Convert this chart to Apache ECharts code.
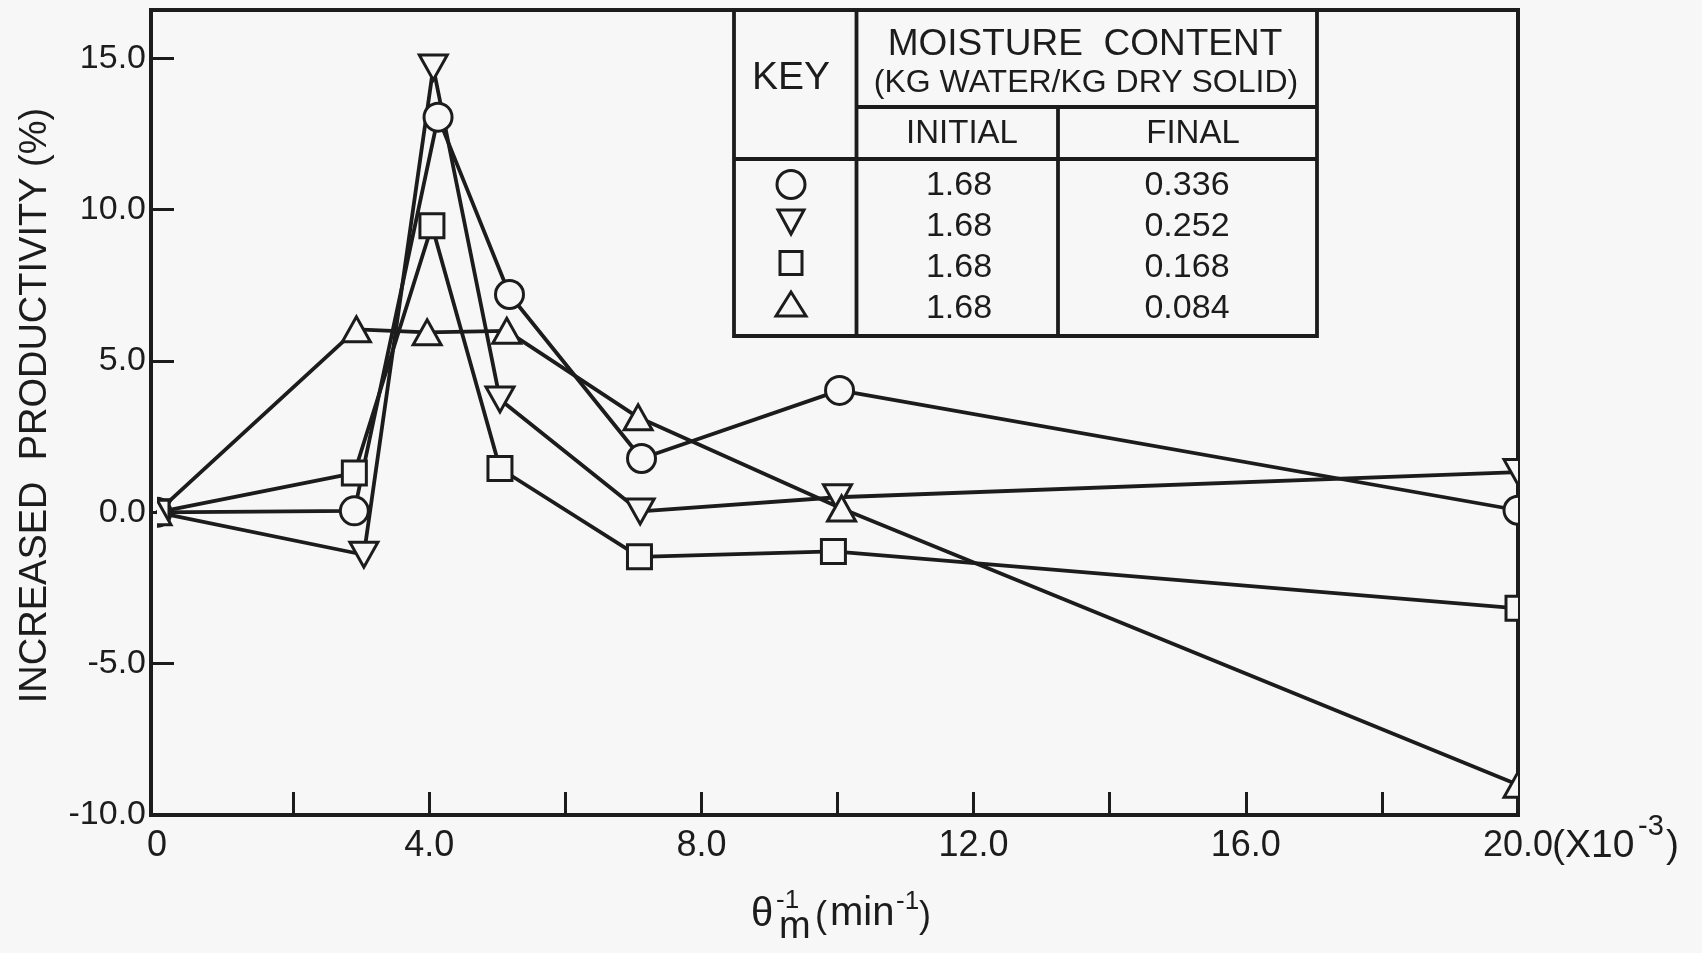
<!DOCTYPE html>
<html>
<head>
<meta charset="utf-8">
<script src="https://cdn.jsdelivr.net/npm/echarts@6/dist/echarts.min.js"></script>
<style>
html,body{margin:0;padding:0;background:#f7f7f7;}
#chart{width:1702px;height:953px;}
</style>
</head>
<body>
<div id="chart"></div>
<script>
// ---- data ----
const seriesNames = ['0.336', '0.252', '0.168', '0.084'];
const initialMoisture = ['1.68', '1.68', '1.68', '1.68'];
const finalMoisture = ['0.336', '0.252', '0.168', '0.084'];

const circleX = [0, 2.90, 4.13, 5.18, 7.12, 10.03, 20.0];
const circleY = [0, 0.05, 13.06, 7.2, 1.78, 4.03, 0.07];

const downTriX = [0, 3.04, 4.06, 5.04, 7.10, 10.0, 20.0];
const downTriY = [0, -1.4, 14.7, 3.73, 0.03, 0.5, 1.33];

const squareX = [0, 2.90, 4.04, 5.04, 7.09, 9.94, 20.0];
const squareY = [0, 1.30, 9.47, 1.45, -1.47, -1.29, -3.17];

const upTriX = [0, 2.93, 3.97, 5.14, 7.07, 10.06, 20.0];
const upTriY = [0, 6.05, 5.95, 6.0, 3.14, 0.13, -9.0];

const xTickValues = [2, 4, 6, 8, 10, 12, 14, 16, 18, 20];
const xLabelValues = [0, 4, 8, 12, 16, 20];
const xLabelText = ['0', '4.0', '8.0', '12.0', '16.0', '20.0'];
const yLabelValues = [-10, -5, 0, 5, 10, 15];
const yLabelText = ['-10.0', '-5.0', '0.0', '5.0', '10.0', '15.0'];

// ---- styling ----
const INK = '#1c1c1c';
const BG = '#f7f7f7';
const FAM = '"Liberation Sans", Arial, sans-serif';

function pairs(xs, ys) { return xs.map((x, i) => [x, ys[i]]); }

function txt(str, x, y, size, align) {
  const a = align || 'center';
  return {
    type: 'text', x: x, y: y, z: 100,
    style: {
      text: str, font: size + 'px ' + FAM, fill: INK,
      align: a, verticalAlign: 'middle', textAlign: a, textVerticalAlign: 'middle'
    }
  };
}
function ln(x1, y1, x2, y2) {
  return { type: 'line', z: 100, shape: { x1: x1, y1: y1, x2: x2, y2: y2 },
           style: { stroke: INK, lineWidth: 3.8 } };
}

const symStyle = { stroke: INK, lineWidth: 3, fill: 'transparent' };
const rowY = [185, 226, 267, 308];
const symY = [184.5, 222, 263, 304];

const graphics = [
  // legend table
  { type: 'rect', z: 90, shape: { x: 734, y: 10, width: 583, height: 326 },
    style: { fill: BG, stroke: INK, lineWidth: 3.8 } },
  ln(856.5, 10, 856.5, 336),
  ln(856.5, 107, 1317, 107),
  ln(734, 159, 1317, 159),
  ln(1058, 107, 1058, 336),
  txt('KEY', 791, 78, 39),
  txt('MOISTURE  CONTENT', 1085, 45, 37),
  txt('(KG WATER/KG DRY SOLID)', 1086, 83, 32),
  txt('INITIAL', 962, 134, 33),
  txt('FINAL', 1193, 134, 33),
  { type: 'circle', z: 100, shape: { cx: 791, cy: symY[0], r: 14 }, style: symStyle },
  { type: 'polygon', z: 100, shape: { points: [[778, symY[1] - 12], [804, symY[1] - 12], [791, symY[1] + 12]] }, style: symStyle },
  { type: 'rect', z: 100, shape: { x: 780, y: symY[2] - 11.5, width: 22, height: 23 }, style: symStyle },
  { type: 'polygon', z: 100, shape: { points: [[776, symY[3] + 12], [806, symY[3] + 12], [791, symY[3] - 12]] }, style: symStyle },
  // x-axis title: theta_m^-1 (min^-1)
  txt('θ', 751, 915, 40, 'left'),
  txt('-1', 776, 901, 26, 'left'),
  txt('m', 779, 928, 38, 'left'),
  txt('(', 815, 917, 36, 'left'),
  txt('min', 830, 914, 40, 'left'),
  txt('-1', 896, 902, 26, 'left'),
  txt(')', 919, 917, 36, 'left'),
  // axis multiplier
  txt('(X10', 1552, 846, 39, 'left'),
  txt('-3', 1638, 827, 29, 'left'),
  txt(')', 1666, 846, 39, 'left')
];
initialMoisture.forEach((v, i) => graphics.push(txt(v, 959, rowY[i] + 1, 34)));
finalMoisture.forEach((v, i) => graphics.push(txt(v, 1187, rowY[i] + 1, 34)));

// connecting lines
function lineSeries(name, data) {
  return {
    type: 'line', name: name, data: data, clip: true,
    xAxisIndex: 0, yAxisIndex: 0, showSymbol: false, symbol: 'none',
    lineStyle: { color: INK, width: 3.8 },
    emphasis: { disabled: true }, z: 2
  };
}
// hollow markers, clipped by the frame like the original
function markerSeries(name, data, kind) {
  return {
    type: 'custom', name: name, data: data, clip: true, z: 3,
    xAxisIndex: 0, yAxisIndex: 0, encode: { x: 0, y: 1 },
    renderItem: function (params, api) {
      const p = api.coord([api.value(0), api.value(1)]);
      const st = { fill: BG, stroke: INK, lineWidth: 3 };
      const x = p[0], y = p[1];
      if (kind === 'circle') return { type: 'circle', shape: { cx: x, cy: y, r: 14 }, style: st };
      if (kind === 'square') return { type: 'rect', shape: { x: x - 12, y: y - 12, width: 24, height: 24 }, style: st };
      if (kind === 'down') return { type: 'polygon', shape: { points: [[x - 14, y - 12.5], [x + 14, y - 12.5], [x, y + 12.5]] }, style: st };
      return { type: 'polygon', shape: { points: [[x - 14, y + 12.5], [x + 14, y + 12.5], [x, y - 12.5]] }, style: st };
    }
  };
}

const circleData = pairs(circleX, circleY);
const downData = pairs(downTriX, downTriY);
const squareData = pairs(squareX, squareY);
const upData = pairs(upTriX, upTriY);

const option = {
  backgroundColor: BG,
  animation: false,
  textStyle: { fontFamily: FAM, color: INK },
  grid: [
    // plotting grid (x = 0 sits a little right of the drawn y axis)
    { left: 157, right: 184, top: 10, bottom: 138, show: false },
    // frame
    { left: 151, right: 184, top: 10, bottom: 138, show: true,
      borderColor: INK, borderWidth: 4, backgroundColor: 'transparent' }
  ],
  xAxis: [{
    type: 'value', min: 0, max: 20, interval: 2, gridIndex: 0,
    axisLine: { onZero: false, lineStyle: { color: INK, width: 4 } },
    axisTick: { inside: true, length: 23, customValues: xTickValues, lineStyle: { color: INK, width: 3 } },
    axisLabel: {
      fontSize: 36, margin: 13, color: INK, fontFamily: FAM, customValues: xLabelValues,
      formatter: function (v) { const i = xLabelValues.indexOf(v); return i >= 0 ? xLabelText[i] : ''; }
    },
    splitLine: { show: false }
  }, { type: 'value', gridIndex: 1, show: false, min: 0, max: 1 }],
  yAxis: [{
    type: 'value', min: -10, max: 16.6, interval: 5, gridIndex: 0, offset: 6,
    name: 'INCREASED  PRODUCTIVITY (%)', nameLocation: 'middle', nameGap: 96, nameRotate: 90,
    nameTextStyle: { fontSize: 38, color: INK, fontFamily: FAM, padding: [0, 0, 0, 14] },
    axisLine: { onZero: false, lineStyle: { color: INK, width: 4 } },
    axisTick: { inside: true, length: 23, customValues: yLabelValues, lineStyle: { color: INK, width: 3 } },
    axisLabel: {
      fontSize: 34, margin: 5, color: INK, fontFamily: FAM, customValues: yLabelValues,
      formatter: function (v) { const i = yLabelValues.indexOf(v); return i >= 0 ? yLabelText[i] : ''; }
    },
    splitLine: { show: false }
  }, { type: 'value', gridIndex: 1, show: false, min: 0, max: 1 }],
  series: [
    lineSeries(seriesNames[0], circleData),
    lineSeries(seriesNames[1], downData),
    lineSeries(seriesNames[2], squareData),
    lineSeries(seriesNames[3], upData),
    markerSeries(seriesNames[0], circleData, 'circle'),
    markerSeries(seriesNames[1], downData, 'down'),
    markerSeries(seriesNames[2], squareData, 'square'),
    markerSeries(seriesNames[3], upData, 'up')
  ],
  graphic: graphics
};

const chart = echarts.init(document.getElementById('chart'), null, { renderer: 'canvas' });
chart.setOption(option);
</script>
</body>
</html>
